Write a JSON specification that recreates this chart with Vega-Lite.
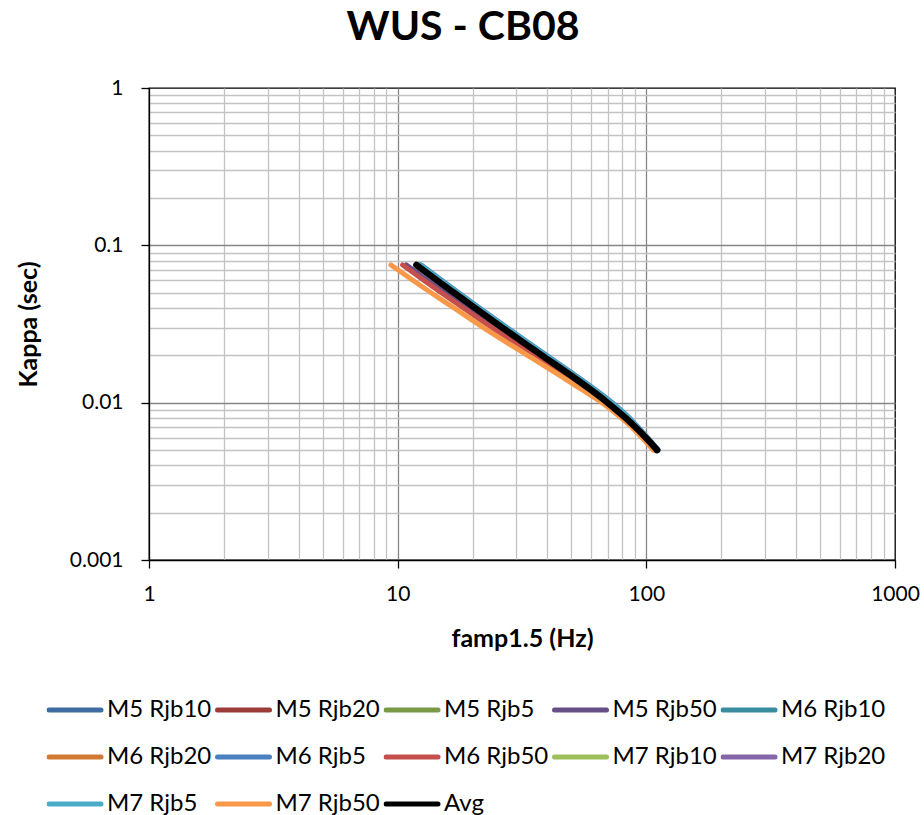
{
  "$schema": "https://vega.github.io/schema/vega-lite/v6.json",
  "width": 746,
  "height": 472,
  "autosize": {"type": "none"},
  "padding": {"left": 149, "top": 88, "right": 29, "bottom": 255},
  "background": "white",
  "title": {"text": "WUS - CB08", "fontSize": 41, "font": "Lato", "fontWeight": "bold", "color": "#000", "anchor": "middle", "dx": -59, "offset": 28},
  "data": {"values": [
    {"s":"M5 Rjb10","k":0.075,"f":12.14},{"s":"M5 Rjb10","k":0.06,"f":14.67},{"s":"M5 Rjb10","k":0.05,"f":17.17},{"s":"M5 Rjb10","k":0.04,"f":20.84},{"s":"M5 Rjb10","k":0.03,"f":26.85},{"s":"M5 Rjb10","k":0.025,"f":31.64},{"s":"M5 Rjb10","k":0.02,"f":38.76},{"s":"M5 Rjb10","k":0.015,"f":50.39},{"s":"M5 Rjb10","k":0.012,"f":61.3},{"s":"M5 Rjb10","k":0.01,"f":71.2},{"s":"M5 Rjb10","k":0.008,"f":84.0},{"s":"M5 Rjb10","k":0.007,"f":91.3},{"s":"M5 Rjb10","k":0.006,"f":100.1},{"s":"M5 Rjb10","k":0.005,"f":110.9},
    {"s":"M5 Rjb20","k":0.075,"f":11.9},{"s":"M5 Rjb20","k":0.06,"f":14.38},{"s":"M5 Rjb20","k":0.05,"f":16.83},{"s":"M5 Rjb20","k":0.04,"f":20.43},{"s":"M5 Rjb20","k":0.03,"f":26.32},{"s":"M5 Rjb20","k":0.025,"f":31.02},{"s":"M5 Rjb20","k":0.02,"f":38.0},{"s":"M5 Rjb20","k":0.015,"f":49.4},{"s":"M5 Rjb20","k":0.012,"f":60.1},{"s":"M5 Rjb20","k":0.01,"f":69.8},{"s":"M5 Rjb20","k":0.008,"f":82.5},{"s":"M5 Rjb20","k":0.007,"f":90.3},{"s":"M5 Rjb20","k":0.006,"f":99.4},{"s":"M5 Rjb20","k":0.005,"f":110.4},
    {"s":"M5 Rjb5","k":0.075,"f":12.26},{"s":"M5 Rjb5","k":0.06,"f":14.81},{"s":"M5 Rjb5","k":0.05,"f":17.33},{"s":"M5 Rjb5","k":0.04,"f":21.04},{"s":"M5 Rjb5","k":0.03,"f":27.11},{"s":"M5 Rjb5","k":0.025,"f":31.95},{"s":"M5 Rjb5","k":0.02,"f":39.14},{"s":"M5 Rjb5","k":0.015,"f":50.88},{"s":"M5 Rjb5","k":0.012,"f":61.9},{"s":"M5 Rjb5","k":0.01,"f":71.89},{"s":"M5 Rjb5","k":0.008,"f":84.6},{"s":"M5 Rjb5","k":0.007,"f":91.8},{"s":"M5 Rjb5","k":0.006,"f":100.6},{"s":"M5 Rjb5","k":0.005,"f":111.3},
    {"s":"M5 Rjb50","k":0.075,"f":10.83},{"s":"M5 Rjb50","k":0.06,"f":13.16},{"s":"M5 Rjb50","k":0.05,"f":15.48},{"s":"M5 Rjb50","k":0.04,"f":19.0},{"s":"M5 Rjb50","k":0.03,"f":24.74},{"s":"M5 Rjb50","k":0.025,"f":29.47},{"s":"M5 Rjb50","k":0.02,"f":36.48},{"s":"M5 Rjb50","k":0.015,"f":47.92},{"s":"M5 Rjb50","k":0.012,"f":58.9},{"s":"M5 Rjb50","k":0.01,"f":69.1},{"s":"M5 Rjb50","k":0.008,"f":81.68},{"s":"M5 Rjb50","k":0.007,"f":89.4},{"s":"M5 Rjb50","k":0.006,"f":98.41},{"s":"M5 Rjb50","k":0.005,"f":109.3},
    {"s":"M6 Rjb10","k":0.075,"f":12.23},{"s":"M6 Rjb10","k":0.06,"f":14.78},{"s":"M6 Rjb10","k":0.05,"f":17.3},{"s":"M6 Rjb10","k":0.04,"f":21.0},{"s":"M6 Rjb10","k":0.03,"f":27.06},{"s":"M6 Rjb10","k":0.025,"f":31.89},{"s":"M6 Rjb10","k":0.02,"f":39.06},{"s":"M6 Rjb10","k":0.015,"f":50.78},{"s":"M6 Rjb10","k":0.012,"f":61.78},{"s":"M6 Rjb10","k":0.01,"f":71.75},{"s":"M6 Rjb10","k":0.008,"f":84.5},{"s":"M6 Rjb10","k":0.007,"f":91.7},{"s":"M6 Rjb10","k":0.006,"f":100.5},{"s":"M6 Rjb10","k":0.005,"f":111.2},
    {"s":"M6 Rjb20","k":0.075,"f":12.02},{"s":"M6 Rjb20","k":0.06,"f":14.52},{"s":"M6 Rjb20","k":0.05,"f":17.0},{"s":"M6 Rjb20","k":0.04,"f":20.63},{"s":"M6 Rjb20","k":0.03,"f":26.58},{"s":"M6 Rjb20","k":0.025,"f":31.33},{"s":"M6 Rjb20","k":0.02,"f":38.38},{"s":"M6 Rjb20","k":0.015,"f":49.89},{"s":"M6 Rjb20","k":0.012,"f":60.7},{"s":"M6 Rjb20","k":0.01,"f":70.5},{"s":"M6 Rjb20","k":0.008,"f":83.2},{"s":"M6 Rjb20","k":0.007,"f":91.0},{"s":"M6 Rjb20","k":0.006,"f":100.0},{"s":"M6 Rjb20","k":0.005,"f":110.8},
    {"s":"M6 Rjb5","k":0.075,"f":12.44},{"s":"M6 Rjb5","k":0.06,"f":15.03},{"s":"M6 Rjb5","k":0.05,"f":17.59},{"s":"M6 Rjb5","k":0.04,"f":21.35},{"s":"M6 Rjb5","k":0.03,"f":27.5},{"s":"M6 Rjb5","k":0.025,"f":32.42},{"s":"M6 Rjb5","k":0.02,"f":39.71},{"s":"M6 Rjb5","k":0.015,"f":51.62},{"s":"M6 Rjb5","k":0.012,"f":62.8},{"s":"M6 Rjb5","k":0.01,"f":72.94},{"s":"M6 Rjb5","k":0.008,"f":85.6},{"s":"M6 Rjb5","k":0.007,"f":92.5},{"s":"M6 Rjb5","k":0.006,"f":101.2},{"s":"M6 Rjb5","k":0.005,"f":111.8},
    {"s":"M6 Rjb50","k":0.075,"f":10.47},{"s":"M6 Rjb50","k":0.06,"f":12.73},{"s":"M6 Rjb50","k":0.05,"f":14.98},{"s":"M6 Rjb50","k":0.04,"f":18.39},{"s":"M6 Rjb50","k":0.03,"f":23.95},{"s":"M6 Rjb50","k":0.025,"f":28.54},{"s":"M6 Rjb50","k":0.02,"f":35.53},{"s":"M6 Rjb50","k":0.015,"f":46.93},{"s":"M6 Rjb50","k":0.012,"f":57.7},{"s":"M6 Rjb50","k":0.01,"f":67.71},{"s":"M6 Rjb50","k":0.008,"f":80.44},{"s":"M6 Rjb50","k":0.007,"f":88.49},{"s":"M6 Rjb50","k":0.006,"f":97.41},{"s":"M6 Rjb50","k":0.005,"f":108.2},
    {"s":"M7 Rjb10","k":0.075,"f":12.2},{"s":"M7 Rjb10","k":0.06,"f":14.74},{"s":"M7 Rjb10","k":0.05,"f":17.25},{"s":"M7 Rjb10","k":0.04,"f":20.94},{"s":"M7 Rjb10","k":0.03,"f":26.98},{"s":"M7 Rjb10","k":0.025,"f":31.8},{"s":"M7 Rjb10","k":0.02,"f":38.95},{"s":"M7 Rjb10","k":0.015,"f":50.64},{"s":"M7 Rjb10","k":0.012,"f":61.6},{"s":"M7 Rjb10","k":0.01,"f":71.55},{"s":"M7 Rjb10","k":0.008,"f":84.3},{"s":"M7 Rjb10","k":0.007,"f":91.5},{"s":"M7 Rjb10","k":0.006,"f":100.3},{"s":"M7 Rjb10","k":0.005,"f":111.0},
    {"s":"M7 Rjb20","k":0.075,"f":12.08},{"s":"M7 Rjb20","k":0.06,"f":14.6},{"s":"M7 Rjb20","k":0.05,"f":17.08},{"s":"M7 Rjb20","k":0.04,"f":20.74},{"s":"M7 Rjb20","k":0.03,"f":26.71},{"s":"M7 Rjb20","k":0.025,"f":31.49},{"s":"M7 Rjb20","k":0.02,"f":38.57},{"s":"M7 Rjb20","k":0.015,"f":50.14},{"s":"M7 Rjb20","k":0.012,"f":61.0},{"s":"M7 Rjb20","k":0.01,"f":70.85},{"s":"M7 Rjb20","k":0.008,"f":83.6},{"s":"M7 Rjb20","k":0.007,"f":91.0},{"s":"M7 Rjb20","k":0.006,"f":100.0},{"s":"M7 Rjb20","k":0.005,"f":110.8},
    {"s":"M7 Rjb5","k":0.075,"f":12.32},{"s":"M7 Rjb5","k":0.06,"f":14.88},{"s":"M7 Rjb5","k":0.05,"f":17.42},{"s":"M7 Rjb5","k":0.04,"f":21.15},{"s":"M7 Rjb5","k":0.03,"f":27.24},{"s":"M7 Rjb5","k":0.025,"f":32.11},{"s":"M7 Rjb5","k":0.02,"f":39.33},{"s":"M7 Rjb5","k":0.015,"f":51.13},{"s":"M7 Rjb5","k":0.012,"f":62.2},{"s":"M7 Rjb5","k":0.01,"f":72.24},{"s":"M7 Rjb5","k":0.008,"f":85.0},{"s":"M7 Rjb5","k":0.007,"f":92.0},{"s":"M7 Rjb5","k":0.006,"f":100.8},{"s":"M7 Rjb5","k":0.005,"f":111.5},
    {"s":"M7 Rjb50","k":0.075,"f":9.4},{"s":"M7 Rjb50","k":0.06,"f":11.5},{"s":"M7 Rjb50","k":0.05,"f":13.63},{"s":"M7 Rjb50","k":0.04,"f":16.85},{"s":"M7 Rjb50","k":0.03,"f":22.11},{"s":"M7 Rjb50","k":0.025,"f":26.52},{"s":"M7 Rjb50","k":0.02,"f":33.25},{"s":"M7 Rjb50","k":0.015,"f":44.46},{"s":"M7 Rjb50","k":0.012,"f":55.59},{"s":"M7 Rjb50","k":0.01,"f":66.31},{"s":"M7 Rjb50","k":0.008,"f":79.2},{"s":"M7 Rjb50","k":0.007,"f":87.14},{"s":"M7 Rjb50","k":0.006,"f":95.92},{"s":"M7 Rjb50","k":0.005,"f":106.5},
    {"s":"Avg","k":0.075,"f":11.9},{"s":"Avg","k":0.06,"f":14.38},{"s":"Avg","k":0.05,"f":16.83},{"s":"Avg","k":0.04,"f":20.43},{"s":"Avg","k":0.03,"f":26.32},{"s":"Avg","k":0.025,"f":31.02},{"s":"Avg","k":0.02,"f":38.0},{"s":"Avg","k":0.015,"f":49.4},{"s":"Avg","k":0.012,"f":60.1},{"s":"Avg","k":0.01,"f":69.8},{"s":"Avg","k":0.008,"f":82.5},{"s":"Avg","k":0.007,"f":90.3},{"s":"Avg","k":0.006,"f":99.4},{"s":"Avg","k":0.005,"f":110.4}
  ]},
  "encoding": {
    "x": {"field": "f", "type": "quantitative",
      "scale": {"type": "log", "domain": [1, 1000], "nice": false},
      "axis": {
        "title": "famp1.5 (Hz)",
        "values": [1,2,3,4,5,6,7,8,9,10,20,30,40,50,60,70,80,90,100,200,300,400,500,600,700,800,900,1000],
        "format": "~g",
        "labelExpr": "indexof([1,10,100,1000], datum.value) >= 0 ? datum.label : ''",
        "gridColor": {"condition": {"test": "indexof([1,10,100,1000], datum.value) >= 0", "value": "#868686"}, "value": "#c3c3c3"},
        "gridOpacity": {"condition": {"test": "datum.value == 1 || datum.value == 1000", "value": 0}, "value": 1},
        "tickOpacity": {"condition": {"test": "indexof([1,10,100,1000], datum.value) >= 0", "value": 1}, "value": 0},
        "labelPadding": 26,
        "labelBaseline": "middle",
        "titleY": 78,
        "titleBaseline": "middle"
      }
    },
    "y": {"field": "k", "type": "quantitative",
      "scale": {"type": "log", "domain": [0.001, 1], "nice": false},
      "axis": {
        "title": "Kappa (sec)",
        "values": [0.001,0.002,0.003,0.004,0.005,0.006,0.007,0.008,0.009,0.01,0.02,0.03,0.04,0.05,0.06,0.07,0.08,0.09,0.1,0.2,0.3,0.4,0.5,0.6,0.7,0.8,0.9,1],
        "format": "~g",
        "labelExpr": "indexof([0.001,0.01,0.1,1], datum.value) >= 0 ? datum.label : ''",
        "gridColor": {"condition": {"test": "indexof([0.001,0.01,0.1,1], datum.value) >= 0", "value": "#868686"}, "value": "#c3c3c3"},
        "gridOpacity": {"condition": {"test": "datum.value == 0.001 || datum.value == 1", "value": 0}, "value": 1},
        "tickOpacity": {"condition": {"test": "indexof([0.001,0.01,0.1,1], datum.value) >= 0", "value": 1}, "value": 0},
        "labelPadding": 18,
        "titleX": -121,
        "titleY": 236,
        "titleBaseline": "middle"
      }
    },
    "color": {"field": "s", "type": "nominal",
      "scale": {
        "domain": ["M5 Rjb10","M5 Rjb20","M5 Rjb5","M5 Rjb50","M6 Rjb10","M6 Rjb20","M6 Rjb5","M6 Rjb50","M7 Rjb10","M7 Rjb20","M7 Rjb5","M7 Rjb50","Avg"],
        "range": ["#3E6BA0","#9C3C39","#7B9A48","#664F87","#3A8CA0","#D07A34","#4A7FC0","#C44F4D","#9DC05B","#8465A8","#4AADC8","#F8994A","#000000"]
      },
      "legend": {
        "title": null,
        "orient": "none",
        "legendX": -102.5,
        "legendY": 598.5,
        "direction": "horizontal",
        "columns": 5,
        "gridAlign": "all",
        "symbolType": "stroke",
        "symbolSize": 2704,
        "symbolStrokeWidth": 5,
        "labelFont": "Lato",
        "labelFontSize": 24,
        "labelColor": "#000",
        "labelOffset": 3.5,
        "labelLimit": 300,
        "columnPadding": 3.5,
        "rowPadding": 0,
        "clipHeight": 47,
        "padding": 0,
        "encode": {"symbols": {"update": {"strokeCap": {"value": "round"}}}}
      }
    }
  },
  "layer": [
    {"transform": [{"filter": "datum.s != 'Avg'"}],
     "mark": {"type": "line", "strokeWidth": 5, "strokeCap": "round", "strokeJoin": "round", "interpolate": "monotone"}},
    {"transform": [{"filter": "datum.s == 'Avg'"}],
     "mark": {"type": "line", "strokeWidth": 6.5, "strokeCap": "round", "strokeJoin": "round", "interpolate": "monotone"}}
  ],
  "config": {
    "font": "Lato",
    "view": {"stroke": "#000", "strokeWidth": 1.3},
    "axis": {
      "domainColor": "#000",
      "domainWidth": 1.3,
      "tickColor": "#000",
      "tickWidth": 1.3,
      "tickSize": 8,
      "gridWidth": 1.3,
      "labelFont": "Lato",
      "labelFontSize": 21,
      "labelColor": "#000",
      "labelOverlap": false,
      "labelFlush": false,
      "titleFont": "Lato",
      "titleFontSize": 25,
      "titleFontWeight": "bold",
      "titleColor": "#000"
    }
  }
}
